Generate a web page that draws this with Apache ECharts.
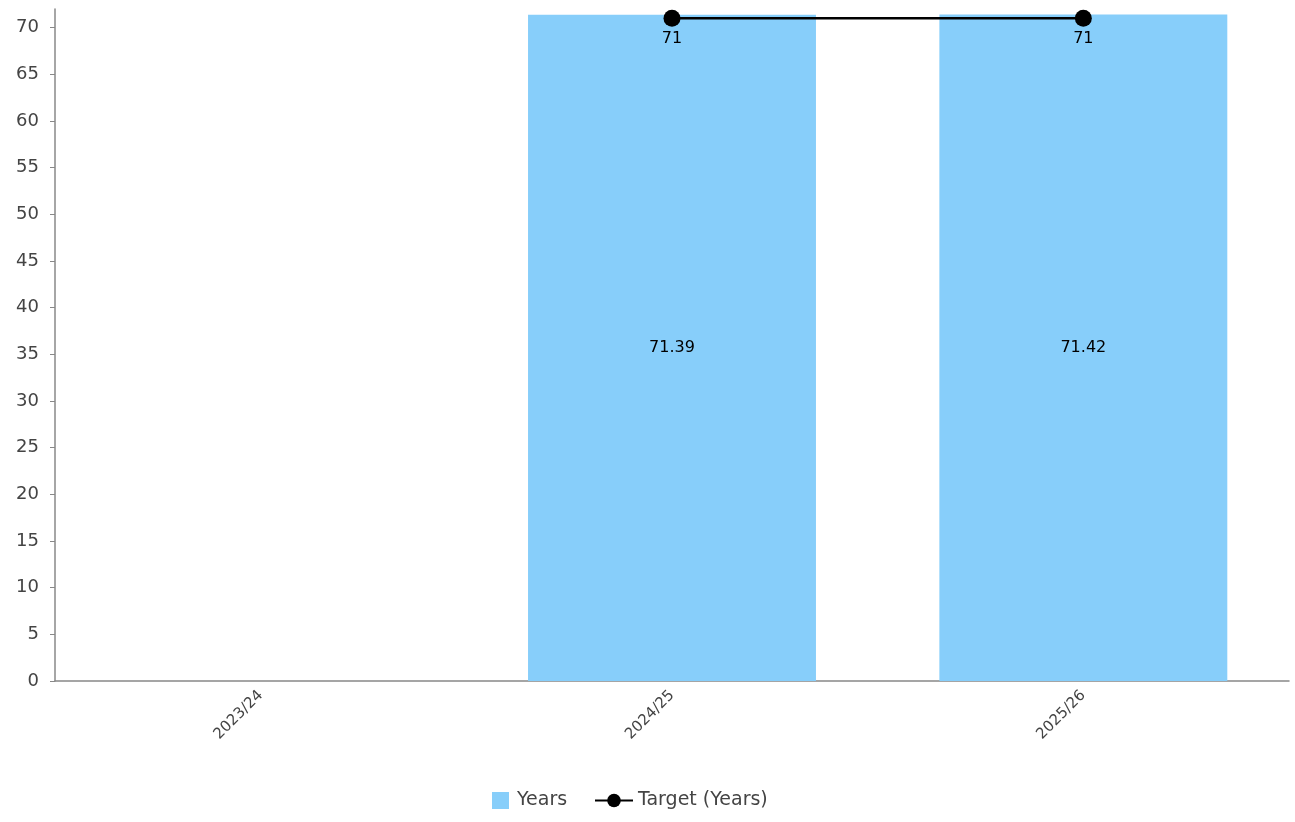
<!DOCTYPE html>
<html><head><meta charset="utf-8">
<script src="https://cdn.jsdelivr.net/npm/echarts@6/dist/echarts.min.js"></script>
<style>html,body{margin:0;padding:0;background:#fff}#c{width:1295px;height:822px}</style>
</head><body><div id="c"></div>
<script>
const categories = ['2023/24', '2024/25', '2025/26'];
const yearsValues = [null, 71.39, 71.42];
const targetValues = [null, 71, 71];

const FONT = 'DejaVu Sans';
const chart = echarts.init(document.getElementById('c'));
chart.setOption({
  animation: false,
  backgroundColor: '#fff',
  grid: { left: 55, right: 6, top: 9, bottom: 141, containLabel: false },
  legend: [
    {
      left: 487, top: 786, itemGap: 8, itemWidth: 17, itemHeight: 17,
      textStyle: { fontFamily: FONT, fontSize: 19, color: '#444', padding: [0, 0, 0, 3] },
      data: [{ name: 'Years', icon: 'rect', itemStyle: { color: '#87CEFA' } }]
    },
    {
      left: 589, top: 786, itemGap: 8, itemWidth: 38, itemHeight: 17,
      textStyle: { fontFamily: FONT, fontSize: 19, color: '#444' },
      data: [{ name: 'Target (Years)' }]
    }
  ],
  xAxis: {
    type: 'category', data: categories,
    axisLine: { lineStyle: { color: '#888', width: 1.5 } },
    axisTick: { alignWithLabel: true, length: 5, lineStyle: { color: '#888' } },
    axisLabel: { rotate: 45, fontFamily: FONT, fontSize: 15, color: '#444', margin: 12 }
  },
  yAxis: {
    type: 'value', min: 0, max: 72, interval: 5,
    axisLine: { show: true, lineStyle: { color: '#888', width: 1.5 } },
    axisTick: { show: true, length: 5, lineStyle: { color: '#888' } },
    splitLine: { show: false },
    axisLabel: { showMaxLabel: false, fontFamily: FONT, fontSize: 18, color: '#444', margin: 16 }
  },
  series: [
    {
      name: 'Years', type: 'bar', data: yearsValues, barWidth: '70%',
      itemStyle: { color: '#87CEFA' },
      label: { show: true, position: 'inside', color: '#000', fontFamily: FONT, fontSize: 16 }
    },
    {
      name: 'Target (Years)', type: 'line', data: targetValues,
      symbol: 'circle', symbolSize: 17,
      itemStyle: { color: '#000' }, lineStyle: { color: '#000', width: 2.5 },
      label: { show: true, position: 'bottom', distance: 4, color: '#000', fontFamily: FONT, fontSize: 16 }
    }
  ]
});
</script></body></html>
